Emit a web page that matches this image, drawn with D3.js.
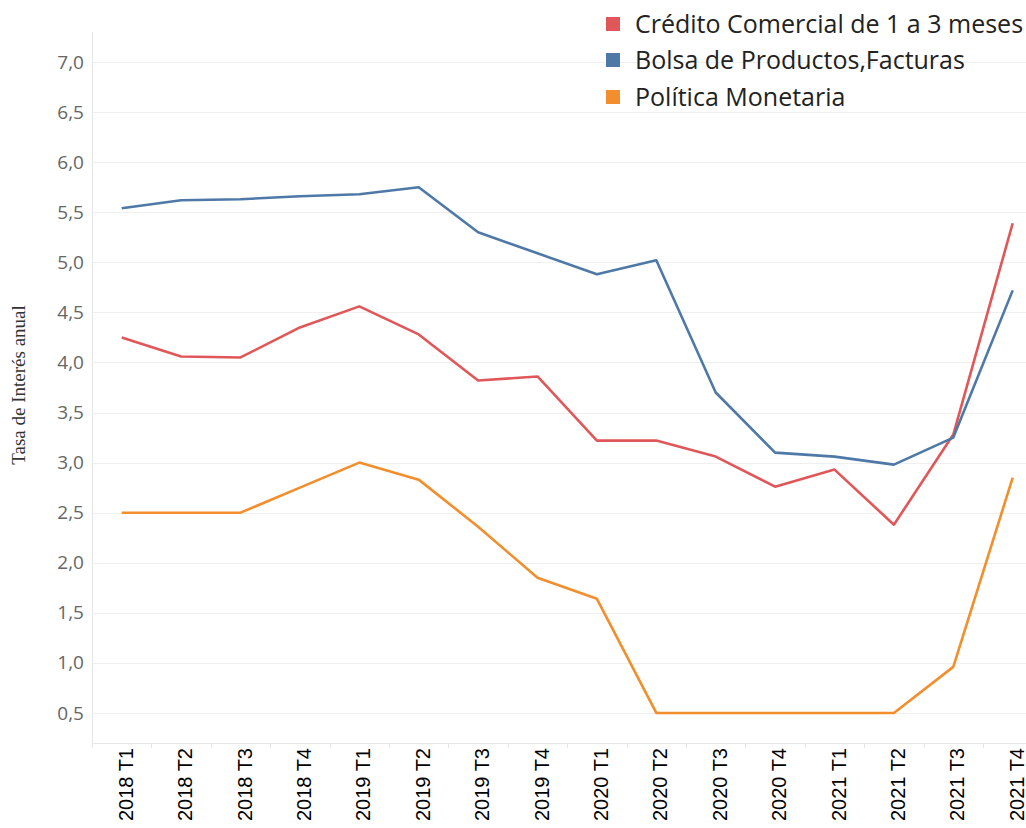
<!DOCTYPE html>
<html><head><meta charset="utf-8">
<script src="https://cdn.jsdelivr.net/npm/d3@7"></script>
<style>body{margin:0;background:#fff;overflow:hidden}</style>
</head><body>
<svg id="c" width="1026" height="828"></svg>
<script>
const categories = ["2018 T1","2018 T2","2018 T3","2018 T4","2019 T1","2019 T2","2019 T3","2019 T4","2020 T1","2020 T2","2020 T3","2020 T4","2021 T1","2021 T2","2021 T3","2021 T4"];
const credito = [4.25,4.06,4.05,4.35,4.56,4.28,3.82,3.86,3.22,3.22,3.06,2.76,2.93,2.38,3.28,5.39];
const bolsa = [5.54,5.62,5.63,5.66,5.68,5.75,5.30,5.09,4.88,5.02,3.70,3.10,3.06,2.98,3.25,4.72];
const politica = [2.5,2.5,2.5,2.75,3.0,2.83,2.36,1.85,1.64,0.5,0.5,0.5,0.5,0.5,0.96,2.85];
const yTicks = [0.5,1.0,1.5,2.0,2.5,3.0,3.5,4.0,4.5,5.0,5.5,6.0,6.5,7.0];
const seriesNames = ["Crédito Comercial de 1 a 3 meses","Bolsa de Productos,Facturas","Política Monetaria"];
const seriesColors = ["#e15759","#4e79a7","#f28e2b"];
const seriesData = [credito, bolsa, politica];

(function(){
const svg = d3.select("#c");
const mLeft = 92, mRight = 1042.4, mTop = 32, mBottom = 743;
const x = d3.scaleBand().domain(categories).range([mLeft, mRight]);
const y = d3.scaleLinear().domain([0.2, 7.3]).range([mBottom, mTop]);
const fmt = v => d3.format(".1f")(v).replace(".", ",");

svg.append("g").selectAll("line").data(yTicks).join("line")
  .attr("x1", mLeft).attr("x2", 1026)
  .attr("y1", d => Math.round(y(d)) + 0.5).attr("y2", d => Math.round(y(d)) + 0.5)
  .attr("stroke", "#efefef").attr("stroke-width", 1);

const ya = svg.append("g").attr("transform", `translate(${mLeft},0)`)
  .call(d3.axisLeft(y).tickValues(yTicks).tickFormat(fmt).tickSize(0).tickPadding(8));
ya.select(".domain").remove();
ya.selectAll("text").attr("font-family", "Open Sans").attr("font-size", 19).attr("fill", "#666");
svg.append("line").attr("x1", mLeft + 0.5).attr("x2", mLeft + 0.5).attr("y1", mTop).attr("y2", mBottom + 5)
  .attr("stroke", "#e6e6e6");

svg.append("line").attr("x1", mLeft).attr("x2", 1026).attr("y1", mBottom + 0.5).attr("y2", mBottom + 0.5)
  .attr("stroke", "#e6e6e6");
svg.append("g").selectAll("line").data(categories).join("line")
  .attr("x1", d => Math.round(x(d)) + 0.5).attr("x2", d => Math.round(x(d)) + 0.5)
  .attr("y1", mBottom).attr("y2", mBottom + 5).attr("stroke", "#e6e6e6");
svg.append("g").selectAll("text").data(categories).join("text")
  .attr("transform", d => `translate(${x(d) + x.bandwidth() / 2 + 4},${mBottom + 5}) rotate(-90)`)
  .attr("text-anchor", "end").attr("dy", "0.35em")
  .attr("font-family", "Liberation Sans, Arial").attr("font-size", 20).attr("fill", "#000")
  .text(d => d);

svg.append("text").attr("transform", "translate(25,385) rotate(-90)")
  .attr("text-anchor", "middle").attr("font-family", "Liberation Serif, Times New Roman")
  .attr("font-size", 19).attr("fill", "#333").text("Tasa de Interés anual");

const line = d3.line().x((d, i) => x(categories[i]) + x.bandwidth() / 2).y(d => y(d));
seriesData.forEach((s, k) => {
  svg.append("path").datum(s).attr("d", line).attr("fill", "none")
    .attr("stroke", seriesColors[k]).attr("stroke-width", 2.6).attr("stroke-linejoin", "round");
});

const lg = svg.append("g");
const rowsY = [24, 60, 97];
seriesNames.forEach((n, k) => {
  lg.append("rect").attr("x", 606).attr("y", rowsY[k] - 7).attr("width", 14).attr("height", 14)
    .attr("fill", seriesColors[k]);
  lg.append("text").attr("x", 635).attr("y", rowsY[k]).attr("dy", "0.35em")
    .attr("font-family", "Open Sans").attr("font-size", 25).attr("fill", "#222").text(n);
});
})();
</script>
</body></html>
